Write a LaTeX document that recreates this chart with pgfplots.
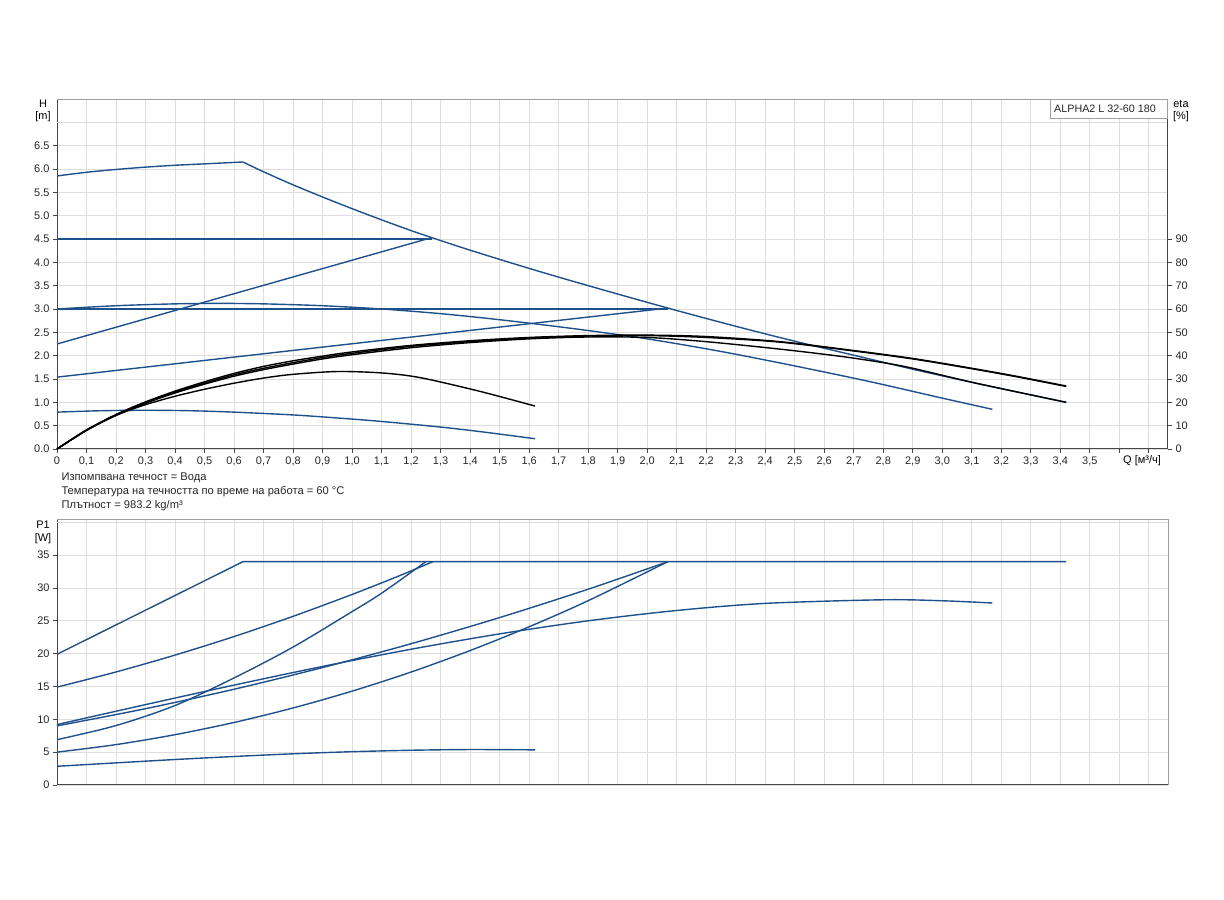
\documentclass[border=0pt]{standalone}
\usepackage{fontspec}
\setmainfont{Liberation Sans}
\usepackage{pgfplots}
\pgfplotsset{compat=1.18}

\definecolor{curveblue}{RGB}{30,80,140}
\definecolor{gridgray}{RGB}{222,222,222}
\definecolor{framegray}{RGB}{160,160,160}
\definecolor{axisdark}{RGB}{70,70,70}
\newcommand\ticksize{\fontsize{11}{13}\selectfont}
\newcommand\notesize{\fontsize{11.2}{13}\selectfont}

\pgfplotsset{
  pump/.style={
    scale only axis, width=1111bp,
    xmin=0, xmax=3.765,
    xtick={0,0.1,...,3.75},
    grid=major, major grid style={draw=gridgray, line width=0.8bp},
    axis x line*=bottom, axis y line*=left,
    axis line style={draw=axisdark, line width=1bp},
    tick align=outside, major tick length=4bp,
    tick style={draw=axisdark, line width=0.8bp},
    tick label style={font=\ticksize, text=black!85},
    clip=false,
    every axis plot/.append style={line width=1.4bp, line join=round},
  },
  bl/.style={curveblue, smooth, tension=0.5},
  bk/.style={black, smooth, tension=0.5},
}

\begin{document}
\begin{tikzpicture}
\useasboundingbox (0,0) rectangle (1224bp,900bp);

% ---------------- H(Q) ----------------
\begin{axis}[pump,
  at={(57bp,451bp)}, anchor=south west, height=350bp,
  ymin=0, ymax=7.5,
  xticklabels={0,{0,1},{0,2},{0,3},{0,4},{0,5},{0,6},{0,7},{0,8},{0,9},{1,0},{1,1},{1,2},{1,3},{1,4},{1,5},{1,6},{1,7},{1,8},{1,9},{2,0},{2,1},{2,2},{2,3},{2,4},{2,5},{2,6},{2,7},{2,8},{2,9},{3,0},{3,1},{3,2},{3,3},{3,4},{3,5},{},{}},
  ytick={0,0.5,...,6.5},
  yticklabels={0.0,0.5,1.0,1.5,2.0,2.5,3.0,3.5,4.0,4.5,5.0,5.5,6.0,6.5},
  extra y ticks={7}, extra y tick labels={},
  extra y tick style={major tick length=0pt},
]
\draw[framegray, line width=0.8bp] (rel axis cs:0,1) -- (rel axis cs:1,1);

% max curve
\addplot[bl] coordinates {(0,5.85)(0.1,5.93)(0.2,5.99)(0.3,6.04)(0.4,6.08)(0.5,6.11)(0.63,6.15)};
\addplot[bl] coordinates {(0.63,6.15)(0.7,5.94)(0.8,5.66)(0.9,5.40)(1.0,5.15)(1.1,4.91)(1.2,4.68)(1.27,4.53)(1.4,4.26)(1.6,3.87)(1.8,3.50)(2.07,3.02)(2.3,2.63)(2.5,2.31)(2.7,2.01)(2.9,1.71)(3.1,1.43)(3.3,1.16)(3.42,1.0)};
% constant / proportional pressure
\addplot[bl] coordinates {(0,4.5)(1.27,4.5)};
\addplot[bl] coordinates {(0,2.25)(1.27,4.53)};
\addplot[bl] coordinates {(0,3.0)(2.07,3.0)};
\addplot[bl] coordinates {(0,1.54)(2.07,3.02)};
% fixed speeds
\addplot[bl] coordinates {(0,3.0)(0.2,3.07)(0.4,3.11)(0.55,3.12)(0.7,3.11)(0.9,3.07)(1.1,3.0)(1.3,2.9)(1.5,2.77)(1.75,2.58)(2.0,2.36)(2.25,2.09)(2.5,1.78)(2.75,1.45)(3.0,1.09)(3.17,0.85)};
\addplot[bl] coordinates {(0,0.79)(0.15,0.82)(0.3,0.83)(0.45,0.82)(0.6,0.79)(0.8,0.73)(0.96,0.66)(1.1,0.59)(1.3,0.47)(1.45,0.36)(1.62,0.22)};

% efficiency (eta = 20*H)
\addplot[bk] coordinates {(0,0)(0.1,0.4)(0.2,0.72)(0.3,0.95)(0.4,1.13)(0.5,1.28)(0.6,1.41)(0.7,1.52)(0.8,1.6)(0.95,1.66)(1.1,1.63)(1.23,1.53)(1.43,1.24)(1.62,0.92)};
\addplot[bk] coordinates {(0,0)(0.1,0.41)(0.2,0.74)(0.3,1.01)(0.4,1.24)(0.5,1.44)(0.6,1.62)(0.7,1.77)(0.8,1.89)(0.9,1.99)(1.0,2.08)(1.2,2.22)(1.4,2.32)(1.6,2.39)(1.8,2.43)(2.0,2.44)(2.2,2.41)(2.45,2.30)(2.7,2.11)(2.9,1.94)(3.1,1.73)(3.25,1.56)(3.42,1.35)};
\addplot[bk] coordinates {(0,0)(0.1,0.40)(0.2,0.73)(0.3,0.99)(0.4,1.22)(0.5,1.41)(0.6,1.59)(0.7,1.73)(0.8,1.85)(0.9,1.96)(1.0,2.05)(1.2,2.2)(1.4,2.3)(1.6,2.38)(1.8,2.42)(2.0,2.43)(2.2,2.39)(2.45,2.29)(2.7,2.10)(2.9,1.93)(3.1,1.72)(3.25,1.55)(3.42,1.34)};
\addplot[bk] coordinates {(0,0)(0.1,0.40)(0.2,0.72)(0.3,0.98)(0.4,1.20)(0.5,1.39)(0.6,1.56)(0.7,1.70)(0.8,1.82)(0.9,1.93)(1.0,2.02)(1.2,2.17)(1.4,2.28)(1.6,2.36)(1.8,2.40)(2.0,2.39)(2.2,2.30)(2.45,2.14)(2.65,1.99)(2.8,1.85)(2.9,1.73)(3.1,1.43)(3.3,1.16)(3.42,1.0)};
\end{axis}

% eta axis on the right
\begin{axis}[
  at={(57bp,451bp)}, anchor=south west,
  scale only axis, width=1111bp, height=350bp,
  xmin=0, xmax=3.765, ymin=0, ymax=150,
  axis x line=none, axis y line*=right,
  axis line style={draw=axisdark, line width=1bp},
  ytick={0,10,...,90},
  yticklabels={0,10,20,30,40,50,60,70,80,90},
  tick align=outside, major tick length=4bp,
  tick style={draw=axisdark, line width=0.8bp},
  tick label style={font=\ticksize, text=black!85},
]
\addplot[draw=none] coordinates {(0,0)};
\end{axis}

\node[font=\ticksize] at (43bp,796bp) {H};
\node[font=\ticksize] at (43bp,783bp) {[m]};
\node[font=\ticksize] at (1181bp,796bp) {eta};
\node[font=\ticksize] at (1181bp,783bp) {[\%]};
\node[font=\ticksize] at (1142bp,439bp) {Q [м³/ч]};
\draw[framegray, line width=0.8bp, fill=white] (1050bp,782bp) rectangle (1167bp,800.5bp);
\node[font=\fontsize{10.8}{12}\selectfont, text=black!85] at (1105bp,791bp) {ALPHA2 L 32-60 180};

\node[anchor=west, font=\notesize, text=black!85] at (58bp,422bp) {Изпомпвана течност = Вода};
\node[anchor=west, font=\notesize, text=black!85] at (58bp,408bp) {Температура на течността по време на работа = 60 °C};
\node[anchor=west, font=\notesize, text=black!85] at (58bp,394bp) {Плътност = 983.2 kg/m³};

% ---------------- P1(Q) ----------------
\begin{axis}[pump,
  at={(57bp,115bp)}, anchor=south west, height=266bp,
  ymin=0, ymax=40.5,
  xmajorticks=false,
  ytick={0,5,...,35},
  yticklabels={0,5,10,15,20,25,30,35},
  extra y ticks={40}, extra y tick labels={},
  extra y tick style={major tick length=0pt},
]
\draw[framegray, line width=0.8bp] (rel axis cs:0,1) -- (rel axis cs:1,1) -- (rel axis cs:1,0);
\addplot[bl, sharp plot] coordinates {(0,19.9)(0.63,34)(3.42,34)};
\addplot[bl] coordinates {(0,14.9)(0.2,17.21)(0.4,19.78)(0.6,22.60)(0.8,25.68)(1.0,29.01)(1.15,31.67)(1.274,34)};
\addplot[bl] coordinates {(0,6.9)(0.2,9.05)(0.4,12.1)(0.6,16.3)(0.8,21.0)(1.0,26.4)(1.1,29.2)(1.25,34)};
\addplot[bl] coordinates {(0,9.0)(0.3,11.62)(0.6,14.58)(0.9,17.88)(1.2,21.51)(1.5,25.49)(1.8,29.81)(2.07,34)};
\addplot[bl] coordinates {(0,9.2)(0.3,12.24)(0.6,15.21)(0.9,18.05)(1.2,20.67)(1.5,23.01)(1.8,25.0)(2.1,26.57)(2.4,27.65)(2.8,28.2)(3.0,28.05)(3.17,27.71)};
\addplot[bl] coordinates {(0,5.0)(0.2,6.15)(0.4,7.66)(0.6,9.52)(0.8,11.73)(1.0,14.29)(1.2,17.2)(1.4,20.47)(1.6,24.09)(1.8,28.06)(2.07,34)};
\addplot[bl] coordinates {(0,2.85)(0.2,3.37)(0.4,3.88)(0.6,4.34)(0.8,4.75)(1.0,5.07)(1.2,5.29)(1.4,5.40)(1.62,5.35)};
\end{axis}

\node[font=\ticksize] at (43bp,375bp) {P1};
\node[font=\ticksize] at (43bp,361bp) {[W]};
\end{tikzpicture}
\end{document}
